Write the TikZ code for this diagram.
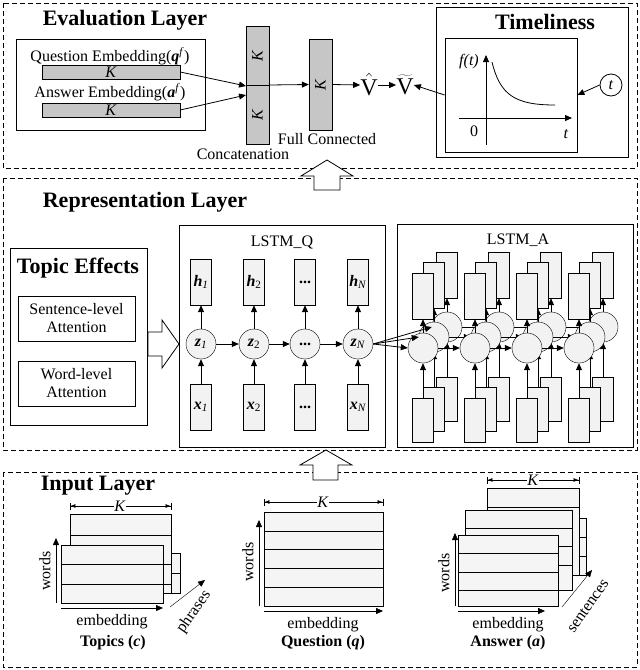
\documentclass[tikz,border=0pt]{standalone}
\usepackage{fontspec}
\setmainfont{Liberation Serif}
\usetikzlibrary{arrows.meta}
\begin{document}
\begin{tikzpicture}[x=1pt,y=-1pt,>={Triangle[length=7pt,width=6pt]},
  every node/.style={font=\fontsize{16}{18}\selectfont, inner sep=1pt},
  ttl/.style={font=\fontsize{22}{24}\selectfont\bfseries},
  dbox/.style={draw, thick, dash pattern=on 5pt off 3pt},
  box/.style={draw, thick},
  bar/.style={draw, fill=gray!45},
  cell/.style={draw, fill=gray!10, minimum width=21pt, minimum height=46pt, inner sep=0pt},
  circ/.style={circle, draw, fill=gray!10, minimum size=30pt, inner sep=0pt},
  blk/.style={draw, thick, fill=white},
  mat/.style={draw, fill=gray!8},
  dim/.style={{Bar[width=7pt]Latex[length=5pt]}-{Latex[length=5pt]Bar[width=7pt]}},
  ln/.style={line width=0.8pt}]
\useasboundingbox (0,0) rectangle (640,670);

% ===== Evaluation layer =====
\draw[dbox] (3,3) rectangle (637,168);
\node[ttl] (evt) at (125,20) {Evaluation Layer};
\draw[box] (16,39) rectangle (205,130);
\node (qe) at (110,56) {Question Embedding(\textbf{\textit{q}}\textsuperscript{\textit{f}})};
\node[bar, minimum width=138pt, minimum height=14pt] (qb) at (111,72) {\textit{K}};
\node (ae) at (110,92) {Answer Embedding(\textbf{\textit{a}}\textsuperscript{\textit{f}})};
\node[bar, minimum width=138pt, minimum height=14pt] (ab) at (111,110) {\textit{K}};
\node[bar, minimum width=23pt, minimum height=59pt] (c1) at (257.5,55.5) {};
\node[bar, minimum width=23pt, minimum height=59pt] (c2) at (257.5,114.5) {};
\node[rotate=90] at (c1) {\textit{K}};
\node[rotate=90] at (c2) {\textit{K}};
\coordinate (cin1) at (246,86);
\coordinate (cin2) at (246,95);
\draw[->,ln] (qb.east) -- (cin1);
\draw[->,ln] (ab.east) -- (cin2);
\node[bar, minimum width=23pt, minimum height=91pt] (fc) at (320.5,84.5) {};
\node[rotate=90] at (fc) {\textit{K}};
\node (conc) at (243,154) {Concatenation};
\node (fcl) at (327,139) {Full Connected};
\draw[->,ln] (269,85) -- (fc.west);
\node[font=\fontsize{24}{26}\selectfont, inner sep=0pt] (vh) at (369,85) {$\hat{\mathrm{V}}$};
\node[font=\fontsize{24}{26}\selectfont, inner sep=0pt] (vt) at (405,85) {$\widetilde{\mathrm{V}}$};
\draw[->,ln] (fc.east) -- (vh.west);
\draw[->,ln] (vh.east) -- (vt.west);
\draw[box] (436,7) rectangle (628,157);
\node[ttl] (tim) at (545,22) {Timeliness};
\node[draw, thick, minimum width=132pt, minimum height=114pt] (tin) at (511,95) {};
\draw[->,ln] (tin.west) -- (vt.east);
\draw[->,ln] (486,145) -- (486,55);
\draw[->,ln] (459,118) -- (572,118);
\draw[ln] (492,62) .. controls (500,95) and (515,105) .. (555,105);
\node (ft) at (469,62) {\textit{f(t)}};
\node (zero) at (474,131) {0};
\node (tl) at (566,134) {\textit{t}};
\node[circle, draw, thick, minimum size=22pt, inner sep=0pt] (tc) at (611,85) {\textit{t}};
\draw[->,ln] (tc.west) -- (tin.east);

% ===== Representation layer =====
\draw[dbox] (3,178) rectangle (637,450);
\node[ttl] (rpt) at (145,202) {Representation Layer};
\draw[box] (10,248) rectangle (147,425);
\node[ttl] (tet) at (78,268) {Topic Effects};
\node[draw, thick, minimum width=117pt, minimum height=45pt, align=center] (sla) at (76.5,318.5) {Sentence-level\\Attention};
\node[draw, thick, minimum width=117pt, minimum height=45pt, align=center] (wla) at (76.5,383.5) {Word-level\\Attention};
\draw[blk] (148,332) -- (162,332) -- (162,320) -- (179,344) -- (162,368) -- (162,356) -- (148,356) -- cycle;

\draw[box] (179,225) rectangle (385,447);
\node (lq) at (282,242) {LSTM\_Q};
\foreach \i/\xx/\hl/\zl/\xl in {1/201/{\textbf{\textit{h}}\textsubscript{\textit{1}}}/{\textbf{\textit{z}}\textsubscript{\textit{1}}}/{\textbf{\textit{x}}\textsubscript{\textit{1}}},
  2/254/{\textbf{\textit{h}}\textsubscript{2}}/{\textbf{\textit{z}}\textsubscript{2}}/{\textbf{\textit{x}}\textsubscript{2}},
  3/305/{\textbf{...}}/{\textbf{...}}/{\textbf{...}},
  4/358/{\textbf{\textit{h}}\textsubscript{\textit{N}}}/{\textbf{\textit{z}}\textsubscript{\textit{N}}}/{\textbf{\textit{x}}\textsubscript{\textit{N}}}}{
  \node[cell] (h\i) at (\xx,282) {\hl};
  \node[circ] (z\i) at (\xx,344) {\zl};
  \node[cell] (x\i) at (\xx,407) {\xl};
  \draw[->,ln] (x\i) -- (z\i);
  \draw[->,ln] (z\i) -- (h\i);
}
\draw[->,ln] (z1) -- (z2);
\draw[->,ln] (z2) -- (z3);
\draw[->,ln] (z3) -- (z4);

\draw[box] (397,224) rectangle (633,447);
\node (la) at (518,240) {LSTM\_A};
\foreach \l/\dx/\dy in {2/24/-21, 1/11/-11, 0/0/0}{
  \foreach \c in {0,1,2,3}{
    \pgfmathsetmacro{\X}{423+52*\c+\dx}
    \node[cell, minimum height=46pt] (at\l\c) at (\X,{296+\dy}) {};
    \node[cell, minimum height=44pt] (ab\l\c) at (\X,{420+\dy}) {};
    \node[circ] (ac\l\c) at (\X,{348+\dy}) {};
    \draw[->,ln] (ab\l\c) -- (ac\l\c);
    \draw[->,ln] (ac\l\c) -- (at\l\c);
  }
  \draw[->,ln] (ac\l0) -- (ac\l1);
  \draw[->,ln] (ac\l1) -- (ac\l2);
  \draw[->,ln] (ac\l2) -- (ac\l3);
}
\draw[->,ln] (z4.east) -- (ac20.west);
\draw[->,ln] (z4.east) -- (ac10.west);
\draw[->,ln] (z4.east) -- (ac00.west);

% ===== Input layer =====
\draw[dbox] (3,472) rectangle (637,667);
\node[ttl] (ilt) at (98,486) {Input Layer};

% Topics
\draw[mat] (70,514) rectangle (171,593);
\draw (70,535) -- (171,535);
\draw[mat] (171,553) rectangle (180,593);
\draw (171,573) -- (180,573);
\draw (163,564) -- (171,564) (163,584) -- (171,584);
\draw[mat] (61,545) rectangle (163,603);
\draw (61,564) -- (163,564) (61,584) -- (163,584);
\draw[dim] (70,506) -- (171,506);
\node[fill=white, inner sep=0pt] (kt) at (120,506) {\textit{K}};
\draw[->] (56,603) -- (56,538);
\node[rotate=90] (wt) at (45,571) {words};
\draw[->] (61,608) -- (163,608);
\node (et) at (112,622) {embedding};
\draw[->] (170,607) -- (205,580);
\node[rotate=55] (ph) at (194,612) {phrases};
\node[font=\fontsize{16}{18}\selectfont\bfseries] (tpl) at (113,643) {Topics (\textit{c})};

% Question
\draw[mat] (264,512) rectangle (383,606);
\draw (264,531) -- (383,531) (264,549) -- (383,549) (264,568) -- (383,568) (264,587) -- (383,587);
\draw[dim] (264,502) -- (383,502);
\node[fill=white, inner sep=0pt] (kq) at (323,502) {\textit{K}};
\draw[->] (259,606) -- (259,520);
\node[rotate=90] (wq) at (248,562) {words};
\draw[->] (264,611) -- (383,611);
\node (eq) at (323,625) {embedding};
\node[font=\fontsize{16}{18}\selectfont\bfseries] (qul) at (323,643) {Question (\textbf{\textit{q}})};

% Answer
\draw[mat] (487,488) rectangle (579,575);
\draw (487,507) -- (579,507);
\draw[mat] (579,518) rectangle (586,575);
\draw (579,537) -- (586,537) (579,556) -- (586,556);
\draw[mat] (465,510) rectangle (572,590);
\draw (465,528) -- (572,528);
\draw (558,546) -- (572,546) (558,565) -- (572,565);
\draw[mat] (458,535) rectangle (558,606);
\draw (458,553) -- (558,553) (458,572) -- (558,572) (458,590) -- (558,590);
\draw[dim] (487,480) -- (579,480);
\node[fill=white, inner sep=0pt] (ka) at (533,480) {\textit{K}};
\draw[->] (455,606) -- (455,533);
\node[rotate=90] (wa) at (444,573) {words};
\draw[->] (458,611) -- (545,611);
\node (ea) at (508,625) {embedding};
\draw[->] (562,607) -- (592,570);
\node[rotate=55] (sn) at (588,606) {sentences};
\node[font=\fontsize{16}{18}\selectfont\bfseries] (anl) at (508,643) {Answer (\textbf{\textit{a}})};

% block arrows (drawn last, over the dashed lines)
\draw[blk] (314,190) -- (314,176) -- (301,176) -- (327,160) -- (353,176) -- (340,176) -- (340,190) -- cycle;
\draw[blk] (313,480) -- (313,465) -- (300,465) -- (326,450) -- (352,465) -- (338,465) -- (338,480) -- cycle;
\end{tikzpicture}
\end{document}
